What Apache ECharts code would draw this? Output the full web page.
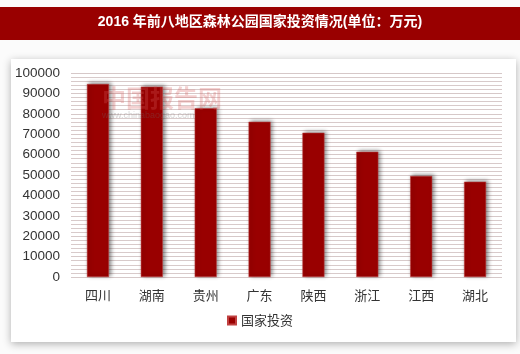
<!DOCTYPE html>
<html><head><meta charset="utf-8">
<script src="https://cdn.jsdelivr.net/npm/echarts@6/dist/echarts.min.js"></script>
<style>html,body{margin:0;padding:0;background:#fff}#c{width:520px;height:354px}</style>
</head><body><div id="c"></div>
<script>
const categories = ['四川','湖南','贵州','广东','陕西','浙江','江西','湖北'];
const investment = [94600, 93300, 82700, 76100, 70700, 61400, 49500, 46700];
const yTicks = { min: 0, max: 100000, interval: 10000 };
const seriesName = '国家投资';
const titleText = '2016 年前八地区森林公园国家投资情况(单位：万元)';

const chart = echarts.init(document.getElementById('c'), null, {renderer: 'canvas'});
chart.setOption({
  animation: false,
  backgroundColor: '#fbfbfb',
  graphic: [
    {type: 'rect', shape: {x: 0, y: 7, width: 520, height: 33}, style: {fill: '#990000'}, z: 0},
    {type: 'rect', shape: {x: 11, y: 59, width: 505, height: 283},
     style: {fill: '#ffffff', shadowBlur: 8, shadowColor: 'rgba(0,0,0,0.3)', shadowOffsetX: 0, shadowOffsetY: 2}, z: 0},
    {type: 'text', left: 'center', top: 15, z: 10,
     style: {text: titleText, fill: '#ffffff', font: 'bold 14px "Liberation Sans", "Noto Sans CJK SC", sans-serif'}},
    {type: 'text', left: 102, top: 86, z: 20,
     style: {text: '中国报告网', fill: 'rgba(215,90,90,0.28)', font: 'bold 24px "Noto Sans CJK SC", sans-serif'}},
    {type: 'text', left: 102, top: 111, z: 20,
     style: {text: 'www.chinabaogao.com', fill: 'rgba(110,110,110,0.3)', font: '9px "Liberation Sans", sans-serif'}}
  ],
  grid: {left: 71, right: 18, top: 73, bottom: 77, show: true, backgroundColor: '#f8f1f1', borderWidth: 0},
  legend: {
    bottom: 22, left: 'center', itemWidth: 8, itemHeight: 8, itemGap: 6,
    icon: 'rect', data: [seriesName],
    textStyle: {color: '#333', fontSize: 13, fontFamily: '"Noto Sans CJK SC", sans-serif'}
  },
  xAxis: {
    type: 'category', data: categories,
    axisLine: {show: false}, axisTick: {show: false},
    axisLabel: {color: '#333', fontSize: 13, margin: 12, fontFamily: '"Noto Sans CJK SC", sans-serif'}
  },
  yAxis: {
    type: 'value', min: yTicks.min, max: yTicks.max, interval: yTicks.interval,
    axisLine: {show: false}, axisTick: {show: false},
    axisLabel: {color: '#333', fontSize: 13.5, margin: 11, fontFamily: '"Liberation Sans", sans-serif',
      formatter: v => String(v)},
    splitLine: {show: true, lineStyle: {color: '#d6c8c8', width: 1.2}},
    minorTick: {show: false, splitNumber: 5},
    minorSplitLine: {show: true, lineStyle: {color: '#d8caca', width: 1.2}}
  },
  series: [{
    name: seriesName, type: 'bar', data: investment, barWidth: 22,
    itemStyle: {color: '#990000', borderColor: '#c04040', borderWidth: 0.5,
      shadowBlur: 4, shadowColor: 'rgba(0,0,0,0.45)', shadowOffsetX: 2, shadowOffsetY: -1}
  }]
});
</script></body></html>
